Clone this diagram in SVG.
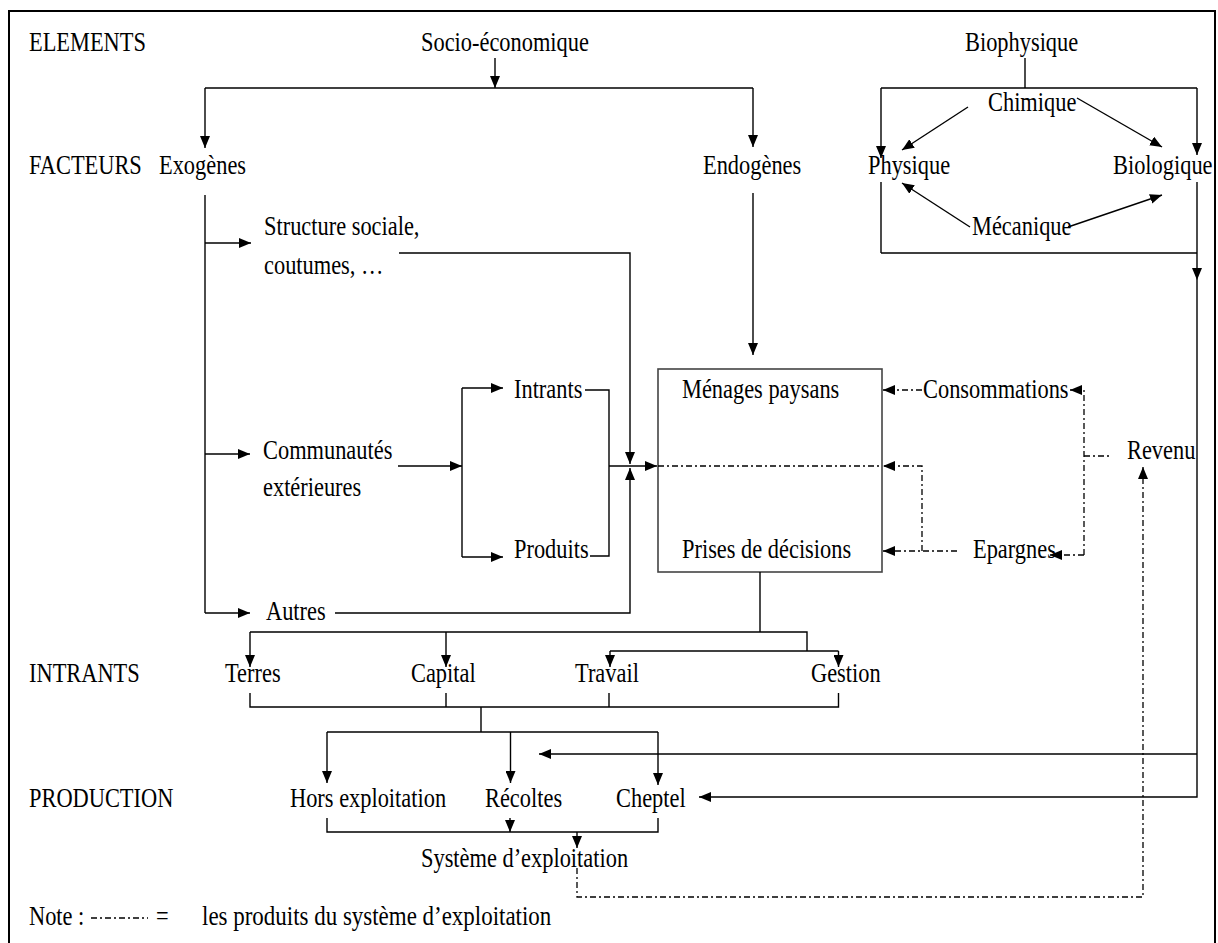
<svg xmlns="http://www.w3.org/2000/svg" width="1218" height="943" viewBox="0 0 1218 943">
<defs>
<style>
text{font-family:"Liberation Serif","Times New Roman",serif;font-size:28px;fill:#000}
.ln{fill:none;stroke:#000;stroke-width:1.4}
.ar{fill:none;stroke:#000;stroke-width:1.4;marker-end:url(#ah)}
.dd{fill:none;stroke:#000;stroke-width:1.3;stroke-dasharray:6 3 2 3}
.dda{fill:none;stroke:#000;stroke-width:1.3;stroke-dasharray:6 3 2 3;marker-end:url(#ah)}
</style>
<marker id="ah" markerWidth="12" markerHeight="10" refX="12" refY="5" orient="auto" markerUnits="userSpaceOnUse"><path d="M0,0 L12,5 L0,10 z" fill="#000"/></marker>
</defs>
<rect x="9" y="11" width="1206" height="945" fill="#fff" stroke="#000" stroke-width="2"/>

<g id="labels">
<text transform="translate(29,51) scale(0.8,1)">ELEMENTS</text>
<text transform="translate(29,174) scale(0.8,1)">FACTEURS</text>
<text transform="translate(29,682) scale(0.8,1)">INTRANTS</text>
<text transform="translate(29,807) scale(0.8,1)">PRODUCTION</text>
</g>
<g id="n-socio"><text transform="translate(421,51) scale(0.8,1)">Socio-économique</text></g>
<g id="n-biophysique"><text transform="translate(965,51) scale(0.8,1)">Biophysique</text></g>
<g id="n-exogenes"><text transform="translate(159,174) scale(0.8,1)">Exogènes</text></g>
<g id="n-endogenes"><text transform="translate(703,174) scale(0.8,1)">Endogènes</text></g>
<g id="n-biobox"><path class="ln" d="M881,88 L1197,88 M881,253 L1197,253 M881,182 L881,253"/></g>
<g id="n-chimique"><text transform="translate(988,111) scale(0.8,1)">Chimique</text></g>
<g id="n-physique"><text transform="translate(868,174) scale(0.8,1)">Physique</text></g>
<g id="n-biologique"><text transform="translate(1113,174) scale(0.8,1)">Biologique</text></g>
<g id="n-mecanique"><text transform="translate(972,235) scale(0.8,1)">Mécanique</text></g>
<g id="n-structure"><text transform="translate(264,235) scale(0.8,1)">Structure sociale,</text><text transform="translate(264,274) scale(0.8,1)">coutumes, …</text></g>
<g id="n-communautes"><text transform="translate(263,459) scale(0.8,1)">Communautés</text><text transform="translate(263,496) scale(0.8,1)">extérieures</text></g>
<g id="n-intrants"><text transform="translate(514,398) scale(0.8,1)">Intrants</text></g>
<g id="n-produits"><text transform="translate(514,558) scale(0.8,1)">Produits</text></g>
<g id="n-autres"><text transform="translate(266,620) scale(0.8,1)">Autres</text></g>
<g id="n-menages">
<rect x="658" y="369" width="224" height="203" fill="none" stroke="#444" stroke-width="1.6"/>
<text transform="translate(682,398) scale(0.8,1)">Ménages paysans</text>
<text transform="translate(682,558) scale(0.8,1)">Prises de décisions</text>
</g>
<g id="n-consommations"><text transform="translate(923,398) scale(0.8,1)">Consommations</text></g>
<g id="n-epargnes"><text transform="translate(973,558) scale(0.8,1)">Epargnes</text></g>
<g id="n-revenu"><text transform="translate(1127,459) scale(0.8,1)">Revenu</text></g>
<g id="n-terres"><text transform="translate(225,682) scale(0.8,1)">Terres</text></g>
<g id="n-capital"><text transform="translate(411,682) scale(0.8,1)">Capital</text></g>
<g id="n-travail"><text transform="translate(575,682) scale(0.8,1)">Travail</text></g>
<g id="n-gestion"><text transform="translate(811,682) scale(0.8,1)">Gestion</text></g>
<g id="n-hors"><text transform="translate(290,807) scale(0.8,1)">Hors exploitation</text></g>
<g id="n-recoltes"><text transform="translate(485,807) scale(0.8,1)">Récoltes</text></g>
<g id="n-cheptel"><text transform="translate(616,807) scale(0.8,1)">Cheptel</text></g>
<g id="n-systeme"><text transform="translate(421,867) scale(0.8,1)">Système d’exploitation</text></g>
<g id="n-note">
<text transform="translate(29,925) scale(0.8,1)">Note :</text>
<path class="dd" d="M91,918 L148,918"/>
<text transform="translate(156,925) scale(0.8,1)">=</text>
<text transform="translate(202,925) scale(0.82,1)">les produits du système d’exploitation</text>
</g>

<g id="connectors">
<path class="ar" d="M495,58 L495,88"/>
<path class="ln" d="M205,88 L753,88"/>
<path class="ar" d="M205,88 L205,148"/>
<path class="ar" d="M753,88 L753,147"/>
<path class="ln" d="M205,195 L205,613"/>
<path class="ar" d="M205,243 L251,243"/>
<path class="ar" d="M205,454 L250,454"/>
<path class="ar" d="M205,613 L250,613"/>
<path class="ar" d="M399,253 L630,253 L630,464"/>
<path class="ar" d="M335,613 L630,613 L630,468"/>
<path class="ar" d="M398,466 L462,466"/>
<path class="ln" d="M462,388 L462,557"/>
<path class="ar" d="M462,388 L503,388"/>
<path class="ar" d="M462,557 L503,557"/>
<path class="ln" d="M585,390 L609,390 L609,556 L590,556"/>
<path class="ar" d="M609,466 L657,466"/>
<path class="ar" d="M753,193 L753,355"/>
<path class="ln" d="M760,572 L760,632"/>
<path class="ln" d="M250,632 L807,632 L807,651"/>
<path class="ar" d="M250,632 L250,667"/>
<path class="ar" d="M446,632 L446,667"/>
<path class="ln" d="M610,651 L838.5,651"/>
<path class="ar" d="M610,651 L610,667"/>
<path class="ar" d="M838.5,651 L838.5,667"/>
<path class="ln" d="M250,693 L250,707 L838.5,707 L838.5,693 M446,693 L446,707 M609,693 L609,707 M481,707 L481,732"/>
<path class="ln" d="M327,732 L658,732"/>
<path class="ar" d="M327,732 L327,783"/>
<path class="ar" d="M510.5,732 L510.5,783"/>
<path class="ar" d="M658,732 L658,785"/>
<path class="ln" d="M327,818 L327,832 L658,832 L658,818"/>
<path class="ar" d="M510,818 L510,832"/>
<path class="ar" d="M577,832 L577,848"/>
<path class="ln" d="M1025,58 L1025,88"/>
<path class="ar" d="M881,88 L881,158"/>
<path class="ar" d="M1197,88 L1197,155"/>
<path class="ar" d="M1197,182 L1197,280"/>
<path class="ar" d="M1197,280 L1197,797 L699,797"/>
<path class="ar" d="M1197,754 L539,754"/>
<path class="ar" d="M968,107 L902,150"/>
<path class="ar" d="M1077,98 L1162,147"/>
<path class="ar" d="M970,227 L902,183"/>
<path class="ar" d="M1068,227 L1162,195"/>
<path class="dd" d="M658,466 L882,466"/>
<path class="dda" d="M922,551 L922,466 L883,466"/>
<path class="dda" d="M957,551 L883,551"/>
<path class="dda" d="M922,390 L883,390"/>
<path class="dda" d="M1084,555 L1084,390 L1070,390"/>
<path class="dda" d="M1084,555 L1050,555"/>
<path class="dd" d="M1084,456 L1112,456"/>
<path class="dda" d="M577,868 L577,897 L1143,897 L1143,467"/>
</g>
</svg>
